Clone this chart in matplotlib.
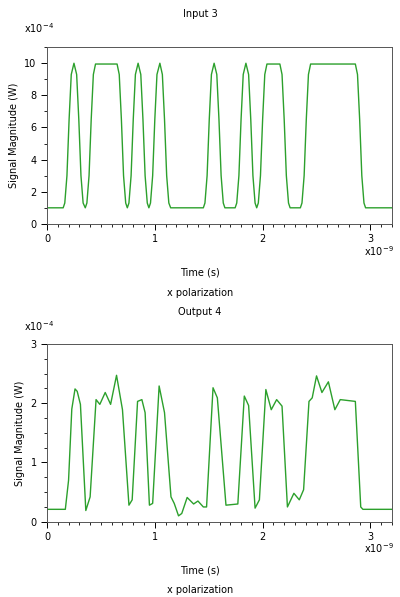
import numpy as np
import matplotlib.pyplot as plt
from matplotlib.ticker import MultipleLocator

# time in ns, magnitude in 1e-4 W
in_t = [0, 0.15, 0.165, 0.185, 0.205, 0.225, 0.25, 0.275, 0.295, 0.315, 0.335, 0.355,
        0.37, 0.39, 0.41, 0.43, 0.45, 0.65, 0.67, 0.69, 0.71, 0.73, 0.745,
        0.76, 0.78, 0.80, 0.82, 0.845, 0.87, 0.89, 0.91, 0.93, 0.945,
        0.96, 0.98, 1.0, 1.02, 1.047, 1.07, 1.09, 1.11, 1.13, 1.147,
        1.45, 1.465, 1.485, 1.505, 1.525, 1.55, 1.575, 1.595, 1.615, 1.635, 1.65,
        1.745, 1.76, 1.78, 1.80, 1.82, 1.845, 1.87, 1.89, 1.91, 1.93, 1.945,
        1.96, 1.98, 2.0, 2.02, 2.04, 2.16, 2.18, 2.20, 2.22, 2.24, 2.255,
        2.35, 2.365, 2.385, 2.405, 2.425, 2.445, 2.86, 2.88, 2.90, 2.92, 2.94, 2.955, 3.2]
in_v = [1, 1, 1.3, 3, 6.5, 9.3, 10, 9.3, 6.5, 3, 1.3, 1,
        1.3, 3, 6.5, 9.3, 9.95, 9.95, 9.3, 6.5, 3, 1.3, 1,
        1.3, 3, 6.5, 9.3, 10, 9.3, 6.5, 3, 1.3, 1,
        1.3, 3, 6.5, 9.3, 10, 9.3, 6.5, 3, 1.3, 1,
        1, 1.3, 3, 6.5, 9.3, 10, 9.3, 6.5, 3, 1.3, 1,
        1, 1.3, 3, 6.5, 9.3, 10, 9.3, 6.5, 3, 1.3, 1,
        1.3, 3, 6.5, 9.3, 9.95, 9.95, 9.3, 6.5, 3, 1.3, 1,
        1, 1.3, 3, 6.5, 9.3, 9.95, 9.95, 9.3, 6.5, 3, 1.3, 1, 1]

out_t = [0, 0.17, 0.2, 0.23, 0.26, 0.28, 0.31, 0.36, 0.40, 0.455, 0.49, 0.54, 0.59, 0.645, 0.70, 0.76,
         0.79, 0.84, 0.88, 0.91, 0.95, 0.98, 1.04, 1.09, 1.15, 1.18, 1.22, 1.25, 1.30, 1.36, 1.40,
         1.45, 1.48, 1.54, 1.58, 1.66, 1.77, 1.83, 1.87, 1.93, 1.97, 2.03, 2.08, 2.13, 2.18, 2.23,
         2.29, 2.34, 2.38, 2.43, 2.46, 2.50, 2.55, 2.61, 2.67, 2.72, 2.86, 2.91, 2.93, 3.2]
out_v = [0.21, 0.21, 0.7, 1.9, 2.24, 2.2, 1.98, 0.19, 0.42, 2.06, 1.98, 2.18, 1.98, 2.47, 1.89, 0.28,
         0.37, 2.03, 2.06, 1.84, 0.28, 0.31, 2.29, 1.84, 0.42, 0.31, 0.10, 0.14, 0.41, 0.30, 0.35,
         0.25, 0.25, 2.26, 2.09, 0.28, 0.30, 2.12, 1.96, 0.23, 0.37, 2.23, 1.89, 2.06, 1.95, 0.25,
         0.48, 0.37, 0.54, 2.03, 2.09, 2.46, 2.18, 2.36, 1.89, 2.06, 2.03, 0.25, 0.21, 0.21]

GREEN = "#2ca02c"
FS = 7

fig = plt.figure(figsize=(4.0, 5.97), dpi=100)

def panel(rect, t, v, ymax, ymajor, yminor, title, title_y, exp_y, x9_y, xl_y, xp_y):
    ax = fig.add_axes(rect)
    ax.plot(t, v, color=GREEN, lw=1.0)
    ax.set_xlim(0, 3.2)
    ax.set_ylim(0, ymax)
    ax.xaxis.set_major_locator(MultipleLocator(1))
    ax.xaxis.set_minor_locator(MultipleLocator(0.1))
    ax.yaxis.set_major_locator(MultipleLocator(ymajor))
    ax.yaxis.set_minor_locator(MultipleLocator(yminor))
    ax.tick_params(labelsize=FS, length=4, width=0.7)
    ax.tick_params(which="minor", length=2, width=0.6)
    for s in ax.spines.values():
        s.set_linewidth(0.7)
        s.set_color("#555555")
    ax.set_ylabel("Signal Magnitude (W)", fontsize=FS)
    fig.text(0.5, title_y, title, ha="center", fontsize=FS)
    fig.text(0.06, exp_y, r"x10$^{-4}$", fontsize=FS)
    fig.text(0.985, x9_y, r"x10$^{-9}$", ha="right", fontsize=FS)
    fig.text(0.5, xl_y, "Time (s)", ha="center", fontsize=FS)
    fig.text(0.5, xp_y, "x polarization", ha="center", fontsize=FS)
    return ax

panel([0.1175, 0.625, 0.8625, 0.296], in_t, in_v, 11, 2, 1, "Input 3",
      0.972, 0.945, 0.572, 0.538, 0.505)
panel([0.1175, 0.126, 0.8625, 0.298], out_t, out_v, 3, 1, 0.25, "Output 4",
      0.473, 0.446, 0.073, 0.04, 0.007)

fig.savefig("out.png", dpi=100)
